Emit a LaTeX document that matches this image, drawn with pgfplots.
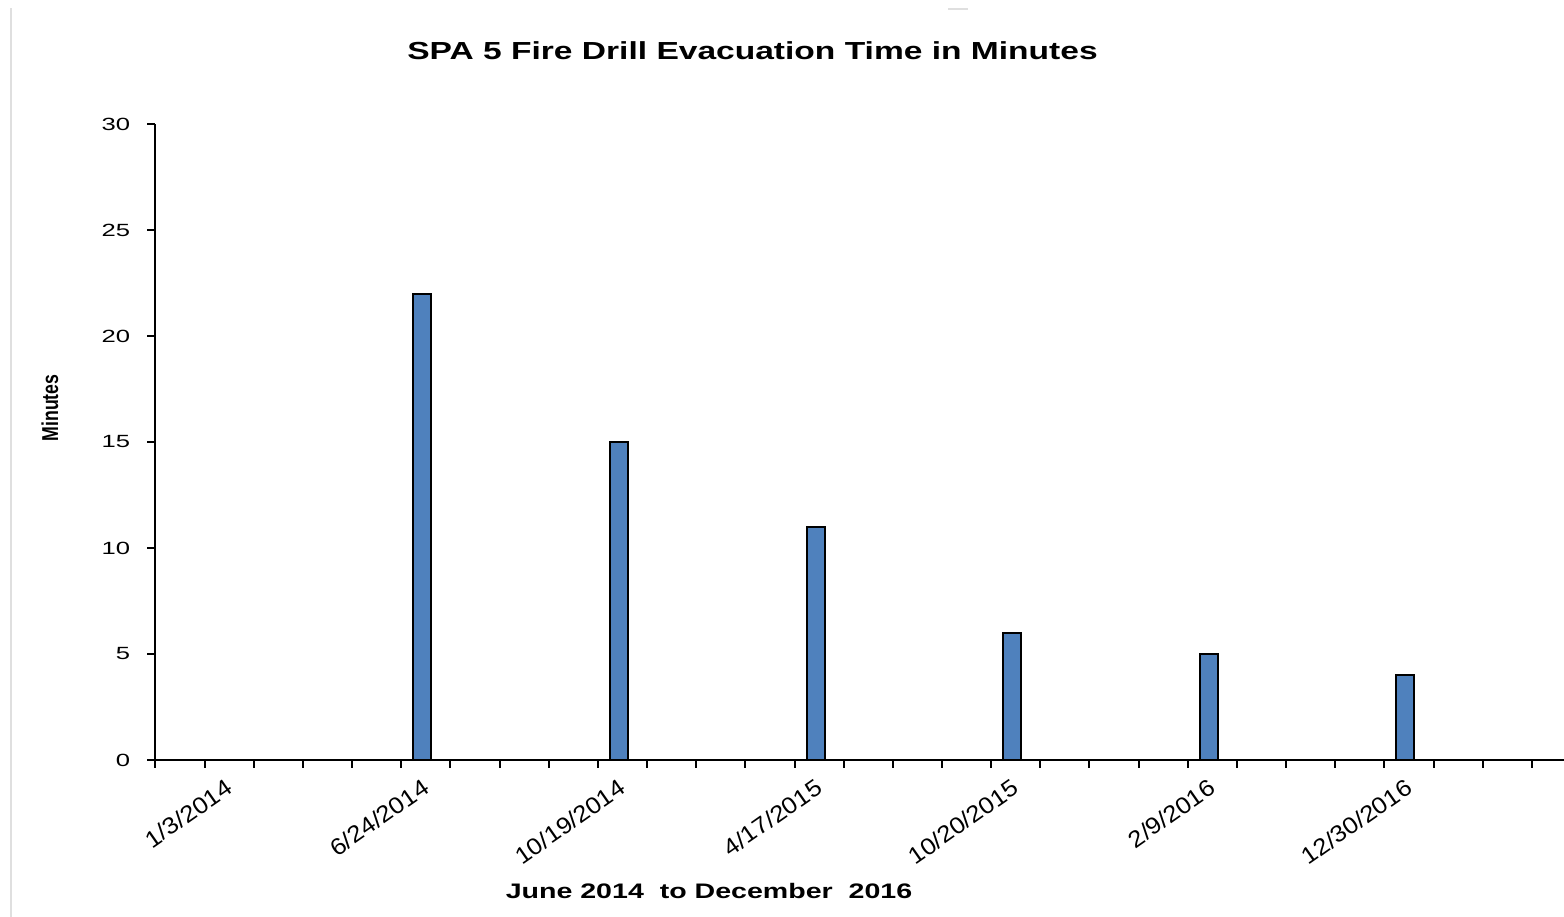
\documentclass[border=0pt]{standalone}
\usepackage{fontspec}
\setmainfont{Liberation Sans}
\newfontfamily\widebold{Liberation Sans}[FakeStretch=1.36]
\newfontfamily\tickfnt{Liberation Sans}[FakeStretch=1.45]
\newfontfamily\ylabfnt{Liberation Sans}[FakeStretch=0.77]
\newfontfamily\datefnt{Liberation Sans}[FakeStretch=1.1]
\usepackage{pgfplots}
\pgfplotsset{compat=1.18}
\definecolor{barblue}{HTML}{4F81BD}

\begin{document}
\begin{tikzpicture}
    % faint frame remains of the original chart area
    \draw[gray!25, line width=0.6pt] (3.3pt,0pt) -- (3.3pt,272.7pt);
    \draw[gray!25, line width=0.6pt] (284.4pt,272.4pt) -- (290.4pt,272.4pt);

    \begin{axis}[
            at={(46.65pt,47.1pt)}, anchor=south west,
            scale only axis,
            width=422.5pt, height=190.8pt,
            xmin=0, xmax=28.65,
            ymin=0, ymax=30,
            axis lines=left,
            axis line style={-, line width=0.6pt, black},
            tick style={line width=0.6pt, black},
            tick align=outside,
            major tick length=2.4pt,
            minor tick length=2.4pt,
            xtick={1.5,5.5,9.5,13.5,17.5,21.5,25.5},
            xticklabels={1/3/2014,6/24/2014,10/19/2014,4/17/2015,10/20/2015,2/9/2016,12/30/2016},
            major x tick style={draw=none},
            minor xtick={0,1,...,28},
            xticklabel style={font=\datefnt\fontsize{7.0}{8}\selectfont,
                xshift=-1.4pt, yshift=-2.7pt,
                rotate=35, anchor=north east, inner sep=0pt},
            ytick={0,5,10,15,20,25,30},
            /pgf/number format/assume math mode=true,
            yticklabel style={font=\tickfnt\fontsize{5.3}{6}\selectfont,
                anchor=east, inner sep=0pt, xshift=-5pt},
            clip=false
        ]
        \addplot[ybar, bar width=5.4pt, bar shift=-1.05pt,
            fill=barblue, draw=black, line width=0.6pt]
        coordinates {
                (5.5,22) (9.5,15) (13.5,11) (17.5,6) (21.5,5) (25.5,4)
            };
    \end{axis}

    \node at (225.75pt,259.8pt)
        {\widebold\bfseries\fontsize{7.4}{9}\selectfont SPA 5 Fire Drill Evacuation Time in Minutes};
    \node at (212.7pt,7.8pt)
        {\widebold\bfseries\fontsize{6.3}{8}\selectfont June 2014~ to December~ 2016};
    \node[rotate=90] at (15pt,152.7pt)
        {\ylabfnt\bfseries\fontsize{6.9}{8}\selectfont Minutes};

    \pgfresetboundingbox
    \path[use as bounding box] (0pt,0pt) rectangle (469.2pt,275.1pt);
\end{tikzpicture}
\end{document}
